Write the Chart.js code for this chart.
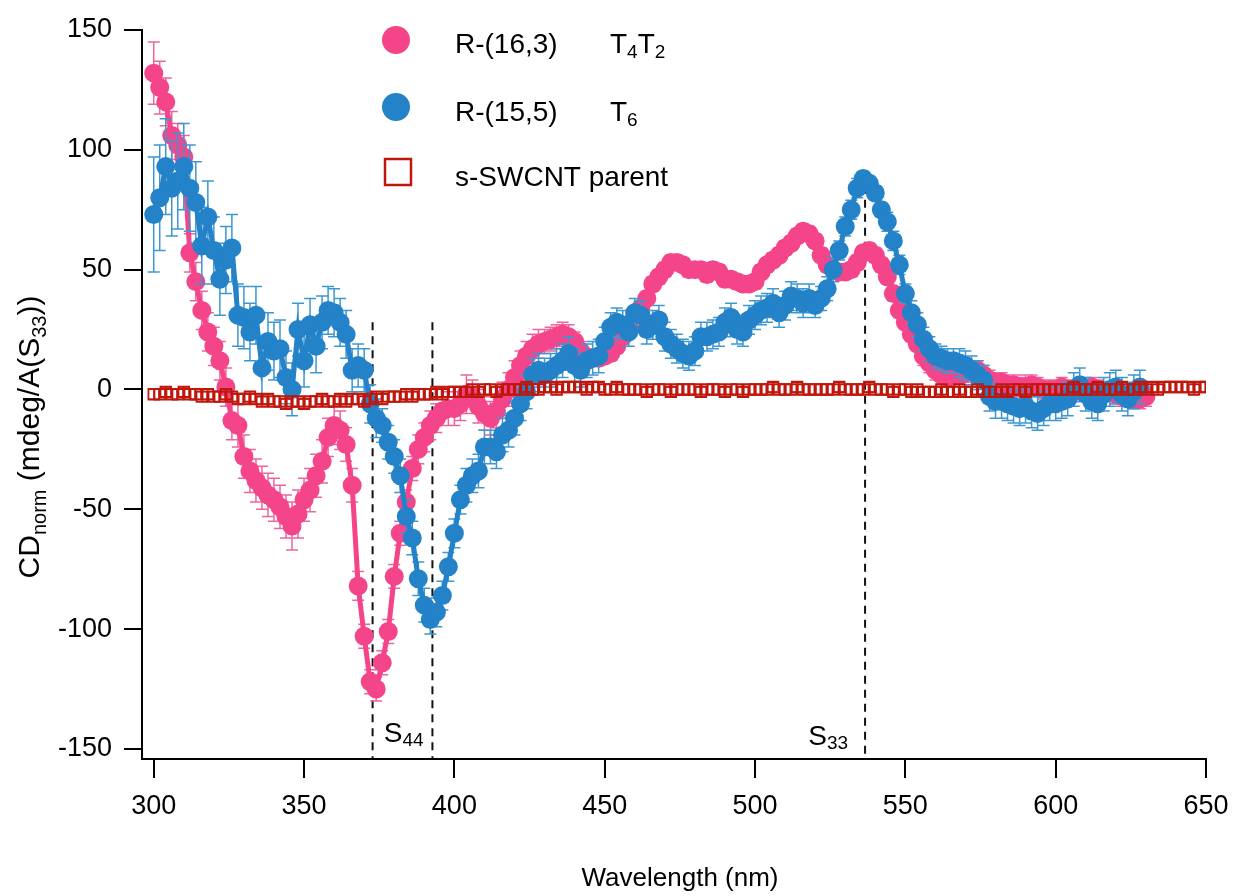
<!DOCTYPE html>
<html><head><meta charset="utf-8">
<script src="https://cdn.jsdelivr.net/npm/chart.js@4.4.1/dist/chart.umd.min.js"></script>
<style>html,body{margin:0;padding:0;background:#fff;}canvas{display:block;}</style>
</head><body>
<canvas id="c" width="1233" height="896"></canvas>
<script>
// ---------- DATA ----------
const wavelengths = [
300,302,304,306,308,310,312,314,316,318,
320,322,324,326,328,330,332,334,336,338,
340,342,344,346,348,350,352,354,356,358,
360,362,364,366,368,370,372,374,376,378,
380,382,384,386,388,390,392,394,396,398,
400,402,404,406,408,410,412,414,416,418,
420,422,424,426,428,430,432,434,436,438,
440,442,444,446,448,450,452,454,456,458,
460,462,464,466,468,470,472,474,476,478,
480,482,484,486,488,490,492,494,496,498,
500,502,504,506,508,510,512,514,516,518,
520,522,524,526,528,530,532,534,536,538,
540,542,544,546,548,550,552,554,556,558,
560,562,564,566,568,570,572,574,576,578,
580,582,584,586,588,590,592,594,596,598,
600,602,604,606,608,610,612,614,616,618,
620,622,624,626,628,630,632,634,636,638,
640,642,644,646,648,650];

// R-(16,3) T4T2
const pinkCD = [
132,126,120,106,102,97,57,45,33,24,
18,12,1,-13,-15,-28,-34,-38,-41,-44,
-46,-49,-53,-57,-52,-46,-42,-36,-30,-20,
-15,-17,-23,-40,-82,-103,-122,-125,-114,-101,
-78,-60,-47,-33,-25,-20,-15,-12,-9,-8,
-8,-6,-2,-3,-7,-10,-12,-9,-4,0,
5,10,14,17,19,20,21,22,23,22,
20,16,13,13,13,14,15,18,22,27,
31,34,38,44,47,50,53,53,52,50,
50,50,48,50,49,46,46,45,44,44,
45,49,52,54,56,59,61,64,66,65,
62,56,52,50,49,49,50,53,57,58,
56,52,47,40,33,28,23,19,14,11,
8,6,5,6,6,7,8,8,6,4,
3,3,2,2,1,1,2,1,0,0,
0,1,0,-1,0,0,1,0,-1,-1,
-2,-3,-3,-4,-4,-3];
const pinkErr = [
13,11,10,10,9,9,8,8,8,8,
8,8,8,8,9,9,9,9,9,9,
9,9,9,10,10,9,9,9,9,8,
8,8,7,7,6,5,5,5,5,5,
5,5,5,5,6,6,6,6,6,7,
7,7,8,7,7,7,7,7,7,7,
7,6,6,6,6,5,5,5,5,5,
4,4,4,3,3,3,3,3,3,3,
3,3,3,3,3,3,3,3,3,3,
3,3,3,3,3,3,3,3,3,3,
3,3,3,3,3,3,3,3,3,3,
3,3,3,3,3,3,3,3,3,3,
3,3,3,3,3,3,3,3,4,4,
4,4,4,4,4,4,4,4,4,4,
4,4,4,4,4,5,4,4,4,4,
4,4,4,4,4,4,4,4,4,4,
4,4,4,4,4,4];

// R-(15,5) T6
const blueCD = [
73,80,93,84,87,93,84,78,60,72,
58,46,54,59,31,30,24,31,9,20,
16,17,5,0,25,12,27,18,28,33,
32,28,23,8,10,8,-6,-12,-15,-22,
-28,-36,-53,-62,-79,-90,-96,-93,-86,-74,
-60,-46,-40,-36,-34,-24,-24,-26,-19,-17,
-12,-6,-1,6,8,6,8,10,12,15,
10,8,12,13,14,20,26,28,27,24,
32,31,25,27,29,22,19,17,15,14,
16,22,22,23,24,28,30,25,24,29,
31,33,34,36,32,35,39,38,36,38,
35,38,42,50,58,68,75,84,88,86,
82,75,70,62,52,40,32,27,21,17,
14,13,12,12,11,10,8,6,4,-3,
-5,-5,-6,-7,-8,-7,-9,-10,-8,-6,
-6,-5,-4,0,2,-2,-5,-6,-2,0,
1,-2,-4,-1,1];
const blueErr = [
24,22,20,20,20,18,18,17,16,15,
14,15,14,14,13,13,12,12,12,12,
12,12,11,11,11,11,11,11,11,10,
10,10,10,9,9,9,8,8,7,7,
7,7,7,7,7,7,6,6,6,6,
6,6,7,7,7,7,7,7,7,7,
7,7,7,7,7,7,7,7,7,7,
7,7,7,7,7,6,6,6,6,6,
6,6,6,6,6,6,6,6,6,6,
6,6,6,6,6,6,6,6,6,6,
6,6,6,6,6,6,6,6,6,6,
5,5,5,5,4,4,4,4,3,3,
3,3,4,4,4,4,5,5,5,5,
5,5,5,5,6,6,6,6,6,6,
7,7,7,7,7,7,7,7,7,7,
7,7,7,7,7,7,7,7,7,7,
7,7,7,7,7];

// s-SWCNT parent
const parentCD = [
-2,-2,-1,-2,-2,-1,-2,-2,-3,-2,
-3,-3,-2,-3,-4,-4,-3,-4,-5,-4,
-5,-5,-6,-5,-5,-6,-5,-5,-4,-5,
-5,-4,-5,-4,-4,-5,-4,-3,-4,-3,
-3,-3,-2,-3,-2,-2,-2,-1,-2,-1,
-1,-1,-1,0,-1,0,0,-1,0,0,
0,0,1,0,0,1,1,0,1,1,
1,1,0,1,1,0,0,1,0,0,
0,0,-1,0,0,0,-1,0,0,0,
0,-1,0,0,0,-1,0,0,-1,0,
0,0,0,1,0,0,0,1,0,0,
0,0,0,0,1,0,0,0,0,1,
0,0,0,-1,0,0,-1,0,-1,-1,
-1,0,-1,-1,0,-1,-1,0,-1,-1,
-1,0,-1,0,0,-1,0,0,0,0,
0,0,0,1,0,0,0,1,0,0,
0,1,0,0,1,0,1,0,1,1,
1,1,1,0,1,1];
const parentErr = [
2,2,2,2,2,2,2,2,2,2,
2,2,2,2,2,2,2,2,2,2,
2,2,2,2,2,2,2,2,2,2,
2,2,2,2,2,2,2,2,2,2,
2,2,2,2,2,2,2,2,2,2,
2,2,2,2,2,2,2,2,2,2,
2,2,2,2,2,2,2,2,2,2,
2,2,2,2,2,2,2,2,2,2,
2,2,2,2,2,2,2,2,2,2,
2,2,2,2,2,2,2,2,2,2,
2,2,2,2,2,2,2,2,2,2,
2,2,2,2,2,2,2,2,2,2,
2,2,2,2,2,2,2,2,2,2,
2,2,2,2,2,2,2,2,2,2,
2,2,2,2,2,2,2,2,2,2,
2,2,2,2,2,2,2,2,2,2,
2,2,2,2,2,2,2,2,2,2,
2,2,2,2,2,2];

const xTickValues = [300,350,400,450,500,550,600,650];
const yTickValues = [-150,-100,-50,0,50,100,150];
const transitionX = [372.8, 392.7, 536.6];
const transitionTop = [28, 28, 85];
const seriesNames = ['R-(16,3)', 'R-(15,5)', 's-SWCNT parent'];

// ---------- STYLE ----------
const PINK = '#f4458a', PINK_ERR = '#f0649c';
const BLUE = '#2382c8', BLUE_ERR = '#3d97d2';
const RED = '#c0160c';
const FONT = "'Liberation Sans', Arial, sans-serif";
const X_MIN = 296.1, X_MAX = 650, Y_MIN = -154.2, Y_MAX = 150;

const pts = (vals) => vals.map((v, i) => ({x: wavelengths[i], y: v}));

const datasets = [
  { label: seriesNames[2], data: pts(parentCD), errors: parentErr, errorColor: RED, errorWidth: 1.2, cap: 5,
    showLine: false, pointStyle: 'rect', pointRadius: 7.5, pointBorderWidth: 1.8,
    pointBorderColor: RED, pointBackgroundColor: 'rgba(255,255,255,0)', borderColor: RED, order: 0 },
  { label: seriesNames[1], data: pts(blueCD), errors: blueErr, errorColor: BLUE_ERR, errorWidth: 1.5, cap: 6,
    showLine: true, borderColor: BLUE, borderWidth: 5, pointRadius: 9.5, pointBorderWidth: 0,
    pointBackgroundColor: BLUE, order: 1 },
  { label: seriesNames[0], data: pts(pinkCD), errors: pinkErr, errorColor: PINK_ERR, errorWidth: 1.5, cap: 6,
    showLine: true, borderColor: PINK, borderWidth: 5, pointRadius: 9.5, pointBorderWidth: 0,
    pointBackgroundColor: PINK, order: 2 }
];
transitionX.forEach((xv, i) => {
  datasets.push({ label: 'S' + i, data: [{x: xv, y: transitionTop[i]}, {x: xv, y: Y_MIN}],
    showLine: true, borderColor: '#111', borderWidth: 2, borderDash: [8, 6], pointRadius: 0, order: 5 });
});

const errorBarPlugin = {
  id: 'errorBars',
  beforeDatasetDraw(chart, args) {
    const ds = chart.data.datasets[args.index];
    if (!ds.errors) return;
    const ctx = chart.ctx, ys = chart.scales.y, a = chart.chartArea;
    ctx.save();
    ctx.beginPath(); ctx.rect(a.left, a.top, a.right - a.left, a.bottom - a.top); ctx.clip();
    ctx.strokeStyle = ds.errorColor; ctx.lineWidth = ds.errorWidth;
    ctx.beginPath();
    args.meta.data.forEach((p, i) => {
      const v = ds.data[i].y, e = ds.errors[i];
      const t = ys.getPixelForValue(v + e), b = ys.getPixelForValue(v - e), x = p.x, c = ds.cap;
      ctx.moveTo(x, t); ctx.lineTo(x, b);
      ctx.moveTo(x - c, t); ctx.lineTo(x + c, t);
      ctx.moveTo(x - c, b); ctx.lineTo(x + c, b);
    });
    ctx.stroke();
    ctx.restore();
  }
};

function richWidth(ctx, parts, big, small) {
  let w = 0;
  parts.forEach(p => { ctx.font = (p.sub ? small : big) + 'px ' + FONT; w += ctx.measureText(p.t).width; });
  return w;
}
function drawRich(ctx, parts, x, y, align, big, small, drop) {
  let w = richWidth(ctx, parts, big, small);
  let cx = align === 'center' ? x - w / 2 : x;
  ctx.textAlign = 'left'; ctx.textBaseline = 'alphabetic'; ctx.fillStyle = '#000';
  parts.forEach(p => {
    ctx.font = (p.sub ? small : big) + 'px ' + FONT;
    ctx.fillText(p.t, cx, y + (p.sub ? drop : 0));
    cx += ctx.measureText(p.t).width;
  });
}

const annotPlugin = {
  id: 'annot',
  afterDraw(chart) {
    const ctx = chart.ctx, xs = chart.scales.x, ys = chart.scales.y;
    ctx.save();
    // axis titles
    drawRich(ctx, [{t: 'Wavelength (nm)'}], 680, 886, 'center', 26, 17, 0);
    ctx.save();
    ctx.translate(39, 437); ctx.rotate(-Math.PI / 2);
    drawRich(ctx, [{t: 'CD'}, {t: 'norm', sub: true}, {t: ' (mdeg/A(S'}, {t: '33', sub: true}, {t: '))'}], 0, 0, 'center', 30, 20, 7);
    ctx.restore();
    // transition labels
    drawRich(ctx, [{t: 'S'}, {t: '44', sub: true}], xs.getPixelForValue(376.5), ys.getPixelForValue(-147), 'left', 28, 19, 4);
    drawRich(ctx, [{t: 'S'}, {t: '33', sub: true}], xs.getPixelForValue(517.7), ys.getPixelForValue(-148.5), 'left', 28, 19, 4);
    // legend
    ctx.fillStyle = PINK; ctx.beginPath(); ctx.arc(396, 40, 14, 0, Math.PI * 2); ctx.fill();
    ctx.fillStyle = BLUE; ctx.beginPath(); ctx.arc(396, 107, 14, 0, Math.PI * 2); ctx.fill();
    ctx.strokeStyle = RED; ctx.lineWidth = 2.5; ctx.strokeRect(385, 159, 26, 26);
    drawRich(ctx, [{t: seriesNames[0]}], 455, 53, 'left', 28, 19, 5);
    drawRich(ctx, [{t: 'T'}, {t: '4', sub: true}, {t: 'T'}, {t: '2', sub: true}], 610, 53, 'left', 28, 19, 5);
    drawRich(ctx, [{t: seriesNames[1]}], 455, 121, 'left', 28, 19, 5);
    drawRich(ctx, [{t: 'T'}, {t: '6', sub: true}], 610, 121, 'left', 28, 19, 5);
    drawRich(ctx, [{t: seriesNames[2]}], 455, 186, 'left', 28, 19, 5);
    ctx.restore();
  }
};

new Chart(document.getElementById('c'), {
  type: 'scatter',
  data: { datasets },
  plugins: [errorBarPlugin, annotPlugin],
  options: {
    responsive: false, animation: false, devicePixelRatio: 1,
    layout: { padding: { left: 0, right: 27, top: 30, bottom: 0 } },
    plugins: { legend: { display: false }, tooltip: { enabled: false } },
    scales: {
      x: {
        type: 'linear', min: X_MIN, max: X_MAX,
        afterBuildTicks: s => { s.ticks = xTickValues.map(v => ({value: v})); },
        afterFit: s => { s.height = 137; s.paddingLeft = 0; s.paddingRight = 0; },
        border: { color: '#000', width: 2 },
        grid: { drawOnChartArea: false, drawTicks: true, tickLength: 19, color: '#000', lineWidth: 2 },
        ticks: { color: '#000', padding: 12, font: { family: FONT, size: 27 }, maxRotation: 0 }
      },
      y: {
        type: 'linear', min: Y_MIN, max: Y_MAX,
        afterBuildTicks: s => { s.ticks = yTickValues.map(v => ({value: v})); },
        afterFit: s => { s.width = 142; s.paddingTop = 0; s.paddingBottom = 0; },
        border: { color: '#000', width: 2 },
        grid: { drawOnChartArea: false, drawTicks: true, tickLength: 18, color: '#000', lineWidth: 2 },
        ticks: { color: '#000', padding: 12, font: { family: FONT, size: 27 } }
      }
    }
  }
});
</script>
</body></html>
